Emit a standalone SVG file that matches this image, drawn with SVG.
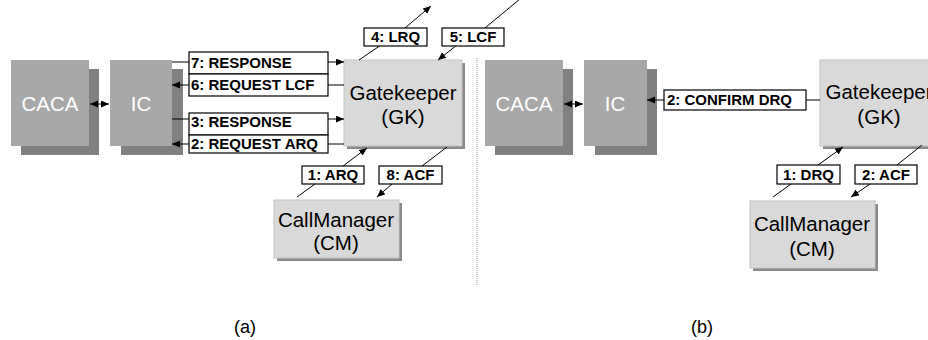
<svg xmlns="http://www.w3.org/2000/svg" width="928" height="340" viewBox="0 0 928 340">
<defs>
<marker id="ah" markerWidth="9" markerHeight="8" refX="8" refY="3.5" orient="auto-start-reverse" markerUnits="userSpaceOnUse">
<path d="M0,0 L8,3.5 L0,7 z" fill="#000"/>
</marker>
<style>
.front{fill:#a8a8a8}
.shadow{fill:#808080}
.light{fill:#d9d9d9;stroke:#c4c4c4;stroke-width:1}
.lshadow{fill:#8a8a8a}
.nt{font-family:"Liberation Sans",Arial,sans-serif;font-size:20.5px;text-anchor:middle}
.wt{fill:#fff}
.lb{fill:#fff;stroke:#000;stroke-width:1.2}
.lt{font-family:"Liberation Sans",Arial,sans-serif;font-size:15px;font-weight:bold;fill:#000}
.c{stroke:#000;stroke-width:1;fill:none}
.a{stroke:#000;stroke-width:1;fill:none;marker-end:url(#ah)}
.cap{font-family:"Liberation Sans",Arial,sans-serif;font-size:18px;text-anchor:middle;fill:#000}
</style>
</defs>
<rect width="928" height="340" fill="#fff"/>

<!-- divider -->
<line x1="477" y1="58" x2="477" y2="286" stroke="#999" stroke-width="1" stroke-dasharray="1,1"/>

<!-- Left panel nodes -->
<g id="caca-a">
<rect class="shadow" x="21" y="69" width="78" height="86"/>
<rect class="front" x="11" y="60" width="78" height="86"/>
<text class="nt wt" x="50" y="111">CACA</text>
</g>
<g id="ic-a">
<rect class="shadow" x="121" y="69" width="62" height="86"/>
<rect class="front" x="110" y="60" width="62" height="86"/>
<text class="nt wt" x="141" y="111">IC</text>
</g>
<g id="gk-a">
<rect class="lshadow" x="347" y="63" width="118" height="86"/>
<rect class="light" x="344" y="60" width="118" height="86"/>
<text class="nt" x="403" y="100">Gatekeeper</text>
<text class="nt" x="403" y="124">(GK)</text>
</g>
<g id="cm-a">
<rect class="lshadow" x="277" y="203" width="125" height="58"/>
<rect class="light" x="274" y="200" width="125" height="58"/>
<text class="nt" x="336" y="227">CallManager</text>
<text class="nt" x="336" y="250">(CM)</text>
</g>

<!-- Right panel nodes -->
<g id="caca-b">
<rect class="shadow" x="495" y="69" width="78" height="86"/>
<rect class="front" x="485" y="60" width="78" height="86"/>
<text class="nt wt" x="524" y="111">CACA</text>
</g>
<g id="ic-b">
<rect class="shadow" x="595" y="69" width="62" height="86"/>
<rect class="front" x="584" y="60" width="63" height="86"/>
<text class="nt wt" x="615" y="111">IC</text>
</g>
<g id="gk-b">
<rect class="lshadow" x="823" y="63" width="118" height="86"/>
<rect class="light" x="820" y="60" width="118" height="86"/>
<text class="nt" x="879" y="99">Gatekeeper</text>
<text class="nt" x="879" y="124">(GK)</text>
</g>
<g id="cm-b">
<rect class="lshadow" x="753" y="204" width="125" height="67"/>
<rect class="light" x="750" y="201" width="125" height="67"/>
<text class="nt" x="812" y="231">CallManager</text>
<text class="nt" x="812" y="256">(CM)</text>
</g>

<!-- Connectors -->
<g id="connectors">
<!-- left -->
<line class="a" x1="90" y1="104" x2="109" y2="104" style="marker-start:url(#ah)"/>
<line class="c" x1="172" y1="62" x2="189" y2="62"/>
<line class="a" x1="328" y1="62" x2="344" y2="62"/>
<line class="a" x1="189" y1="85" x2="172" y2="85"/>
<line class="c" x1="344" y1="85" x2="328" y2="85"/>
<line class="c" x1="172" y1="119" x2="189" y2="119"/>
<line class="a" x1="328" y1="119" x2="344" y2="119"/>
<line class="a" x1="189" y1="144" x2="172" y2="144"/>
<line class="c" x1="344" y1="144" x2="328" y2="144"/>
<line class="c" x1="359" y1="60" x2="381" y2="45"/>
<line class="a" x1="405" y1="28" x2="431" y2="6"/>
<line class="c" x1="520" y1="-1" x2="485" y2="28"/>
<line class="a" x1="457" y1="45" x2="438" y2="60"/>
<line class="c" x1="297" y1="197" x2="315" y2="184"/>
<line class="a" x1="343" y1="166" x2="367" y2="148"/>
<line class="c" x1="447" y1="147" x2="422" y2="166"/>
<line class="a" x1="392" y1="184" x2="377" y2="197"/>
<!-- right -->
<line class="a" x1="564" y1="104" x2="583" y2="104" style="marker-start:url(#ah)"/>
<line class="a" x1="664" y1="100" x2="647" y2="100"/>
<line class="c" x1="806" y1="100" x2="820" y2="100"/>
<line class="c" x1="773" y1="197" x2="791" y2="184"/>
<line class="a" x1="818" y1="165" x2="843" y2="147"/>
<line class="c" x1="922" y1="145" x2="897" y2="165"/>
<line class="a" x1="870" y1="184" x2="851" y2="197"/>
</g>

<!-- Labels -->
<g id="labels">
<rect class="lb" x="189" y="52" width="139" height="22"/>
<text class="lt" x="191" y="68">7: RESPONSE</text>
<rect class="lb" x="189" y="74" width="139" height="22"/>
<text class="lt" x="191" y="90">6: REQUEST LCF</text>
<rect class="lb" x="189" y="113" width="139" height="22"/>
<text class="lt" x="191" y="127">3: RESPONSE</text>
<rect class="lb" x="189" y="135" width="139" height="18"/>
<text class="lt" x="191" y="149">2: REQUEST ARQ</text>
<rect class="lb" x="364" y="28" width="63" height="18"/>
<text class="lt" x="395.5" y="42" text-anchor="middle">4: LRQ</text>
<rect class="lb" x="442" y="28" width="62" height="18"/>
<text class="lt" x="473" y="42" text-anchor="middle">5: LCF</text>
<rect class="lb" x="302" y="166" width="62" height="18"/>
<text class="lt" x="333" y="180" text-anchor="middle">1: ARQ</text>
<rect class="lb" x="379" y="166" width="63" height="18"/>
<text class="lt" x="410.5" y="180" text-anchor="middle">8: ACF</text>
<rect class="lb" x="664" y="90" width="142" height="20"/>
<text class="lt" x="667" y="105">2: CONFIRM DRQ</text>
<rect class="lb" x="777" y="165" width="63" height="19"/>
<text class="lt" x="808.5" y="180" text-anchor="middle">1: DRQ</text>
<rect class="lb" x="855" y="165" width="62" height="19"/>
<text class="lt" x="886" y="180" text-anchor="middle">2: ACF</text>
</g>

<text class="cap" x="245" y="333">(a)</text>
<text class="cap" x="702" y="333">(b)</text>
</svg>
